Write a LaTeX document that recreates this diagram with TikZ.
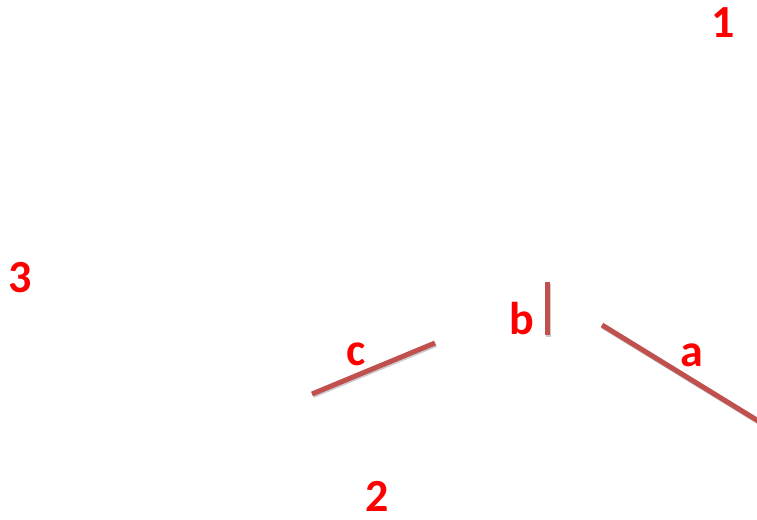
\documentclass[tikz,border=0pt]{standalone}
\usepackage{fontspec}
\setmainfont{Carlito}
\usepackage{tikz}
\usepackage{xcolor}

\definecolor{sidered}{HTML}{C0504D}
\definecolor{labelred}{HTML}{FF0000}

\tikzset{
    lbl/.style={text=labelred, font=\fontsize{46}{46}\selectfont\bfseries, inner sep=0pt},
    side/.style={draw=sidered, line width=5pt,
        preaction={draw=black!20, line width=5pt, transform canvas={shift={(1pt,-1.5pt)}}}}
}

\begin{document}
\begin{tikzpicture}[x=1pt, y=-1pt]
    \useasboundingbox (0,0) rectangle (757,519);

    % corner numbers
    \node (one) [lbl] at (723,23) {1};
    \node (two) [lbl] at (377,496) {2};
    \node (three) [lbl] at (20,278) {3};

    % side labels
    \node (a) [lbl] at (692,355) {a};
    \node (b) [lbl] at (522,319) {b};
    \node (c) [lbl] at (356,354) {c};

    % end points of the sides
    \coordinate (a1) at (602,325);
    \coordinate (a2) at (760,422);
    \coordinate (b1) at (547,282);
    \coordinate (b2) at (547,335);
    \coordinate (c1) at (312,394);
    \coordinate (c2) at (435,343);

    \draw[side] (a1) -- (a2);
    \draw[side] (b1) -- (b2);
    \draw[side] (c1) -- (c2);
\end{tikzpicture}
\end{document}
